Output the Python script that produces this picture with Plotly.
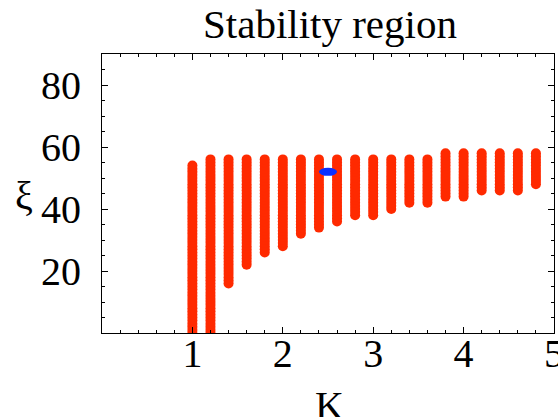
import numpy as np
import plotly.graph_objects as go

# Stability grid: columns of stable (K, xi) points
K_values = [1.0, 1.2, 1.4, 1.6, 1.8, 2.0, 2.2, 2.4, 2.6, 2.8,
            3.0, 3.2, 3.4, 3.6, 3.8, 4.0, 4.2, 4.4, 4.6, 4.8]
xi_min = [0, 0, 16, 22, 26, 28, 32, 34, 36, 38,
          38, 40, 42, 42, 44, 44, 46, 46, 46, 48]
xi_max = [54, 56, 56, 56, 56, 56, 56, 56, 56, 56,
          56, 56, 56, 56, 58, 58, 58, 58, 58, 58]
xi_step = 1  # sampling step of xi grid

# highlighted point
blue_K = 2.5
blue_xi = 52
blue_halfwidth_K = 0.1
blue_halfheight_xi = 1.3

x_ticks = [1, 2, 3, 4, 5]
y_ticks = [20, 40, 60, 80]

xs, ys = [], []
for k, lo, hi in zip(K_values, xi_min, xi_max):
    for xi in np.arange(lo, hi + 0.001, xi_step):
        xs.append(k)
        ys.append(float(xi))

RED = "#ff2a00"
BLUE = "#0a30ff"
FONT = "Liberation Serif"

fig = go.Figure()
fig.add_trace(go.Scatter(
    x=xs, y=ys, mode="markers",
    marker=dict(color=RED, size=10, line=dict(width=0)),
    hoverinfo="skip", showlegend=False,
))

fig.add_shape(type="circle", xref="x", yref="y",
              x0=blue_K - blue_halfwidth_K, x1=blue_K + blue_halfwidth_K,
              y0=blue_xi - blue_halfheight_xi, y1=blue_xi + blue_halfheight_xi,
              fillcolor=BLUE, line=dict(width=0))

axis_common = dict(
    showline=True, linecolor="black", linewidth=1, mirror="ticks",
    ticks="inside", ticklen=6, tickcolor="black", tickwidth=1,
    showgrid=False, zeroline=False, automargin=False,
    ticklabeloverflow="allow",
    tickfont=dict(family=FONT, size=40, color="black"),
)

fig.update_xaxes(range=[0, 5], tickmode="array", tickvals=x_ticks,
                 ticklabelstandoff=-15,
                 minor=dict(dtick=0.2, tick0=0, ticks="inside", ticklen=3,
                            tickcolor="black", showgrid=False),
                 **axis_common)
fig.update_yaxes(range=[0, 90], tickmode="array", tickvals=y_ticks,
                 ticklabelstandoff=12,
                 minor=dict(dtick=5, tick0=0, ticks="inside", ticklen=3,
                            tickcolor="black", showgrid=False),
                 **axis_common)

fig.update_layout(
    width=558, height=417,
    margin=dict(l=102, r=4, t=54, b=84),
    paper_bgcolor="white", plot_bgcolor="white",
    font=dict(family=FONT, size=40, color="black"),
    annotations=[
        dict(text="Stability region", xref="paper", yref="paper",
             x=0.505, y=1.0, yshift=30, xanchor="center", yanchor="middle",
             showarrow=False, font=dict(family=FONT, size=41, color="black")),
        dict(text="K", xref="paper", yref="paper",
             x=0.503, y=0, yshift=-72, xanchor="center", yanchor="middle",
             showarrow=False, font=dict(family=FONT, size=40, color="black")),
        dict(text="ξ", xref="paper", yref="paper",
             x=0, xshift=-78, y=0.5, yshift=-2, xanchor="center", yanchor="middle",
             showarrow=False, font=dict(family=FONT, size=40, color="black")),
    ],
)

fig.write_html("out.html",
               config={"displayModeBar": False},
               post_script="document.body.style.margin='0';document.body.style.overflow='hidden';")
